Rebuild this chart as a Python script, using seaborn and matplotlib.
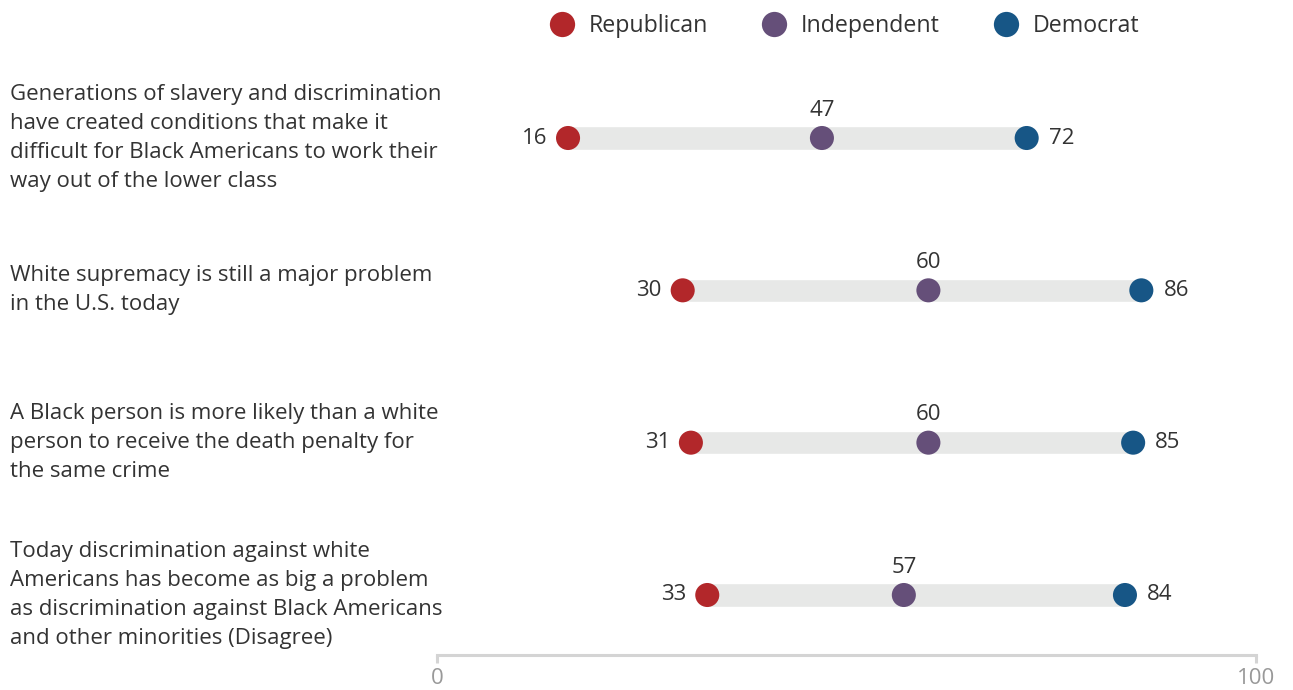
import matplotlib
matplotlib.use("Agg")
import matplotlib.pyplot as plt
import matplotlib.transforms as mtransforms
import seaborn as sns
import pandas as pd

statements = [
    "Generations of slavery and discrimination\nhave created conditions that make it\ndifficult for Black Americans to work their\nway out of the lower class",
    "White supremacy is still a major problem\nin the U.S. today",
    "A Black person is more likely than a white\nperson to receive the death penalty for\nthe same crime",
    "Today discrimination against white\nAmericans has become as big a problem\nas discrimination against Black Americans\nand other minorities (Disagree)",
]
republican = [16, 30, 31, 33]
independent = [47, 60, 60, 57]
democrat = [72, 86, 85, 84]
parties = ["Republican", "Independent", "Democrat"]
colors = {"Republican": "#B2272A", "Independent": "#654F79", "Democrat": "#175686"}

rows = list(range(len(statements)))
df = pd.DataFrame({
    "row": rows * 3,
    "value": republican + independent + democrat,
    "party": [p for p in parties for _ in rows],
})

sns.set_theme(style="white")
plt.rcParams["font.family"] = ["Open Sans", "DejaVu Sans"]

W, H = 1293, 690
fig = plt.figure(figsize=(W / 100, H / 100), dpi=100)
# axes box in pixel terms: x 0..100 spans 437..1256, rows centred 138..595
left_px, right_px = 437, 1256
bottom_px, top_px = 655, 40
ax = fig.add_axes([left_px / W, 1 - bottom_px / H, (right_px - left_px) / W, (bottom_px - top_px) / H])
row_gap = (595 - 138) / 3
ax.set_xlim(0, 100)
ax.set_ylim(3 + (bottom_px - 595) / row_gap, -(138 - top_px) / row_gap)

# grey range bands from lowest to highest party value
lo = [min(r, d) for r, d in zip(republican, democrat)]
hi = [max(r, d) for r, d in zip(republican, democrat)]
ax.barh(rows, [h - l for h, l in zip(hi, lo)], left=lo, height=0.152, color="#E7E8E7", zorder=1)

sns.scatterplot(data=df, x="value", y="row", hue="party", palette=colors, hue_order=parties,
                s=300, linewidth=0, ax=ax, zorder=3, clip_on=False, legend=True)

txt_color = "#333333"
fs = 16
for i in rows:
    ax.annotate(str(republican[i]), (republican[i], i), xytext=(-15, 0), textcoords="offset points",
                ha="right", va="center", fontsize=fs, color=txt_color)
    ax.annotate(str(democrat[i]), (democrat[i], i), xytext=(16, 0), textcoords="offset points",
                ha="left", va="center", fontsize=fs, color=txt_color)
    ax.annotate(str(independent[i]), (independent[i], i), xytext=(0, 20), textcoords="offset points",
                ha="center", va="center", fontsize=fs, color=txt_color)

trans = mtransforms.blended_transform_factory(fig.transFigure, ax.transData)
for i, s in enumerate(statements):
    ax.text(10 / W, i, s, transform=trans, ha="left", va="center", fontsize=fs,
            color=txt_color, linespacing=1.49)

# bottom axis as a bracket with end ticks
for side in ["top", "right", "left"]:
    ax.spines[side].set_visible(False)
ax.spines["bottom"].set_color("#D4D4D4")
ax.spines["bottom"].set_linewidth(2.2)
ax.set_xticks([0, 100])
ax.set_xticklabels(["0", "100"])
ax.tick_params(axis="x", bottom=True, direction="out", length=6, width=2.2, color="#D4D4D4",
               labelsize=fs, labelcolor="#999999", pad=3)
ax.set_yticks([])
ax.set_xlabel("")
ax.set_ylabel("")

handles, labels = ax.get_legend_handles_labels()
ax.legend(handles, labels, loc="center", bbox_to_anchor=(845 / W, 1 - 26 / H), bbox_transform=fig.transFigure,
          ncol=3, frameon=False, fontsize=16.7, labelcolor=txt_color, markerscale=1.05,
          handlelength=1.0, handletextpad=0.65, columnspacing=2.35, borderaxespad=0)

fig.savefig("out.png", dpi=100)
